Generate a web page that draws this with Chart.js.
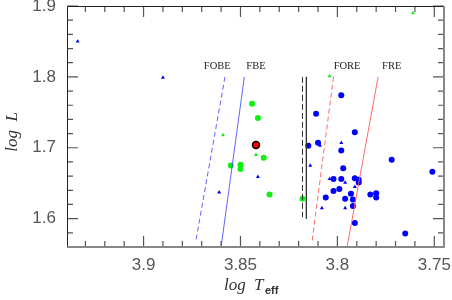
<!DOCTYPE html>
<html lang="en">
<head>
    <meta charset="UTF-8">
    <title>HR diagram - instability strip edges</title>
    <script src="https://cdn.jsdelivr.net/npm/chart.js"></script>
    <style>
        body {
            margin: 0;
            background: #ffffff;
        }
        #box {
            width: 452px;
            height: 300px;
        }
    </style>
</head>
<body>

    <div id="box"><canvas id="grafico" width="452" height="300"></canvas></div>

    <script>
        // axis ticks
        const xTickValues = [3.9, 3.85, 3.8, 3.75];
        const xTickLabels = ['3.9', '3.85', '3.8', '3.75'];
        const yTickValues = [1.6, 1.7, 1.8, 1.9];
        const yTickLabels = ['1.6', '1.7', '1.8', '1.9'];

        // stars
        const blueCircleX = [3.798, 3.811, 3.791, 3.815, 3.810, 3.798, 3.797, 3.802, 3.798, 3.791, 3.789, 3.789, 3.802,
                             3.799, 3.806, 3.796, 3.793, 3.792, 3.792, 3.791, 3.783, 3.780, 3.780, 3.772, 3.751, 3.765];
        const blueCircleY = [1.774, 1.748, 1.722, 1.703, 1.707, 1.696, 1.671, 1.656, 1.656, 1.657, 1.655, 1.651, 1.639,
                             1.642, 1.630, 1.628, 1.635, 1.627, 1.618, 1.594, 1.634, 1.636, 1.630, 1.683, 1.666, 1.579];
        const blueTriX = [3.934, 3.890, 3.861, 3.841, 3.798, 3.809, 3.814, 3.804, 3.796, 3.791, 3.808, 3.796];
        const blueTriY = [1.850, 1.799, 1.637, 1.659, 1.707, 1.703, 1.675, 1.656, 1.651, 1.645, 1.615, 1.615];
        const greenCircleX = [3.844, 3.841, 3.838, 3.855, 3.850, 3.850, 3.835, 3.818];
        const greenCircleY = [1.762, 1.742, 1.686, 1.675, 1.676, 1.670, 1.634, 1.628];
        const greenTriX = [3.859, 3.842, 3.761, 3.804];
        const greenTriY = [1.718, 1.690, 1.890, 1.801];
        const redX = [3.842];
        const redY = [1.704];

        // instability strip edges (top point, bottom point)
        const edgeNames = ['FOBE', 'FBE', 'FORE', 'FRE'];
        const edgeX = [[3.858, 3.873], [3.848, 3.860], [3.802, 3.813], [3.779, 3.795]];
        const edgeY = [[1.8, 1.569], [1.8, 1.56], [1.8, 1.569], [1.8, 1.56]];
        const edgeLabelX = [3.862, 3.842, 3.795, 3.772];
        const edgeLabelY = [1.815, 1.815, 1.815, 1.815];

        // black vertical markers
        const markSolidX = [3.816, 3.816];
        const markSolidY = [1.8, 1.6];
        const markDashX = [3.818, 3.818];
        const markDashY = [1.8, 1.602];

        // minor tick steps
        const xMinorStep = 0.01;
        const yMinorStep = 0.02;

        function pts(xs, ys) {
            return xs.map((x, i) => ({ x: x, y: ys[i] }));
        }

        const edgeStyle = [
            { color: 'rgba(70,70,255,0.85)', dash: [5, 3] },
            { color: 'rgba(70,70,255,0.85)', dash: [] },
            { color: 'rgba(255,90,90,0.9)', dash: [5, 3] },
            { color: 'rgba(255,90,90,0.9)', dash: [] }
        ];

        const datasets = [];
        edgeNames.forEach((n, i) => {
            datasets.push({
                label: n,
                data: pts(edgeX[i], edgeY[i]),
                showLine: true,
                borderColor: edgeStyle[i].color,
                borderWidth: 1,
                borderDash: edgeStyle[i].dash,
                pointRadius: 0
            });
        });
        datasets.push({
            label: 'mark solid', data: pts(markSolidX, markSolidY), showLine: true,
            borderColor: '#333', borderWidth: 1, pointRadius: 0
        });
        datasets.push({
            label: 'mark dashed', data: pts(markDashX, markDashY), showLine: true,
            borderColor: '#333', borderWidth: 1, borderDash: [6, 3], pointRadius: 0
        });
        datasets.push({
            label: 'blue circles', data: pts(blueCircleX, blueCircleY), pointStyle: 'circle',
            pointRadius: 3, backgroundColor: '#0000ff', borderColor: '#0000ff', borderWidth: 0
        });
        datasets.push({
            label: 'blue triangles', data: pts(blueTriX, blueTriY), pointStyle: 'triangle',
            pointRadius: 2.3, backgroundColor: '#0000ff', borderColor: '#0000ff', borderWidth: 0
        });
        datasets.push({
            label: 'green circles', data: pts(greenCircleX, greenCircleY), pointStyle: 'circle',
            pointRadius: 3, backgroundColor: '#11ee11', borderColor: '#11ee11', borderWidth: 0
        });
        datasets.push({
            label: 'green triangles', data: pts(greenTriX, greenTriY), pointStyle: 'triangle',
            pointRadius: 2.3, backgroundColor: '#11ee11', borderColor: '#11ee11', borderWidth: 0
        });
        datasets.push({
            label: 'red', data: pts(redX, redY), pointStyle: 'circle',
            pointRadius: 3.5, backgroundColor: '#ff0000', borderColor: '#000000', borderWidth: 1.5
        });

        // frame, inward ticks, labels and titles
        const framePlugin = {
            id: 'frame',
            afterDraw(chart) {
                const ctx = chart.ctx;
                const a = chart.chartArea;
                const xs = chart.scales.x;
                const ys = chart.scales.y;
                ctx.save();
                ctx.setLineDash([]);

                // ticks on all four sides, pointing inward
                ctx.strokeStyle = '#555';
                ctx.lineWidth = 1.2;
                const nx = Math.round((xs.max - xs.min) / xMinorStep) + 2;
                for (let i = 0; i < nx; i++) {
                    const v = Math.ceil(xs.min / xMinorStep) * xMinorStep + i * xMinorStep;
                    const px = xs.getPixelForValue(v);
                    if (!(px >= a.left && px <= a.right)) continue;
                    const major = Math.abs(v * 20 - Math.round(v * 20)) < 1e-6;
                    const len = major ? 11 : 6;
                    ctx.beginPath();
                    ctx.moveTo(px, a.bottom);
                    ctx.lineTo(px, a.bottom - len);
                    ctx.moveTo(px, a.top);
                    ctx.lineTo(px, a.top + len);
                    ctx.stroke();
                }
                const ny = Math.round((ys.max - ys.min) / yMinorStep) + 2;
                for (let i = 0; i < ny; i++) {
                    const v = Math.ceil(ys.min / yMinorStep - 1e-6) * yMinorStep + i * yMinorStep;
                    const py = ys.getPixelForValue(v);
                    if (!(py >= a.top - 0.5 && py <= a.bottom)) continue;
                    const major = Math.abs(v * 10 - Math.round(v * 10)) < 1e-6;
                    const len = major ? 11 : 6;
                    ctx.beginPath();
                    ctx.moveTo(a.left, py);
                    ctx.lineTo(a.left + len, py);
                    ctx.moveTo(a.right, py);
                    ctx.lineTo(a.right - len, py);
                    ctx.stroke();
                }

                // frame
                ctx.lineWidth = 1;
                ctx.strokeStyle = '#222';
                ctx.beginPath();
                ctx.moveTo(a.left + 0.5, a.bottom);
                ctx.lineTo(a.left + 0.5, a.top + 0.5);
                ctx.lineTo(a.right, a.top + 0.5);
                ctx.stroke();
                ctx.strokeStyle = '#888';
                ctx.lineWidth = 2;
                ctx.beginPath();
                ctx.moveTo(a.left, a.bottom);
                ctx.lineTo(a.right, a.bottom);
                ctx.lineTo(a.right, a.top);
                ctx.stroke();

                // tick labels
                ctx.fillStyle = '#555';
                ctx.font = '17px "Liberation Sans", Arial, sans-serif';
                ctx.textAlign = 'center';
                ctx.textBaseline = 'alphabetic';
                xTickValues.forEach((v, i) => {
                    ctx.fillText(xTickLabels[i], xs.getPixelForValue(v), 270);
                });
                ctx.textAlign = 'right';
                ctx.textBaseline = 'middle';
                yTickValues.forEach((v, i) => {
                    ctx.fillText(yTickLabels[i], 56, ys.getPixelForValue(v));
                });

                // edge names
                ctx.fillStyle = '#222';
                ctx.font = '10.5px "Liberation Serif", "DejaVu Serif", serif';
                ctx.textAlign = 'center';
                ctx.textBaseline = 'middle';
                edgeNames.forEach((n, i) => {
                    ctx.fillText(n, xs.getPixelForValue(edgeLabelX[i]), ys.getPixelForValue(edgeLabelY[i]));
                });

                // axis titles
                ctx.fillStyle = '#333';
                ctx.font = 'italic 17px "Liberation Serif", serif';
                ctx.textAlign = 'left';
                ctx.textBaseline = 'alphabetic';
                ctx.fillText('log', 224, 290);
                ctx.fillText('T', 254, 290);
                ctx.font = 'bold 11px "Liberation Sans", sans-serif';
                ctx.fillText('eff', 265, 294);

                ctx.translate(17, 132);
                ctx.rotate(-Math.PI / 2);
                ctx.font = 'italic 17px "Liberation Serif", serif';
                ctx.textAlign = 'center';
                ctx.fillText('log  L', 0, 0);
                ctx.restore();
            }
        };

        const grafico = new Chart(document.getElementById('grafico'), {
            type: 'scatter',
            data: { datasets: datasets },
            options: {
                responsive: false,
                animation: false,
                layout: {
                    padding: { left: 67, right: 8, top: 6, bottom: 53 }
                },
                plugins: {
                    legend: { display: false },
                    tooltip: { enabled: false }
                },
                scales: {
                    x: { display: false, reverse: true, min: 3.745, max: 3.9395 },
                    y: { display: false, min: 1.56, max: 1.9 }
                }
            },
            plugins: [framePlugin]
        });
    </script>

</body>
</html>
